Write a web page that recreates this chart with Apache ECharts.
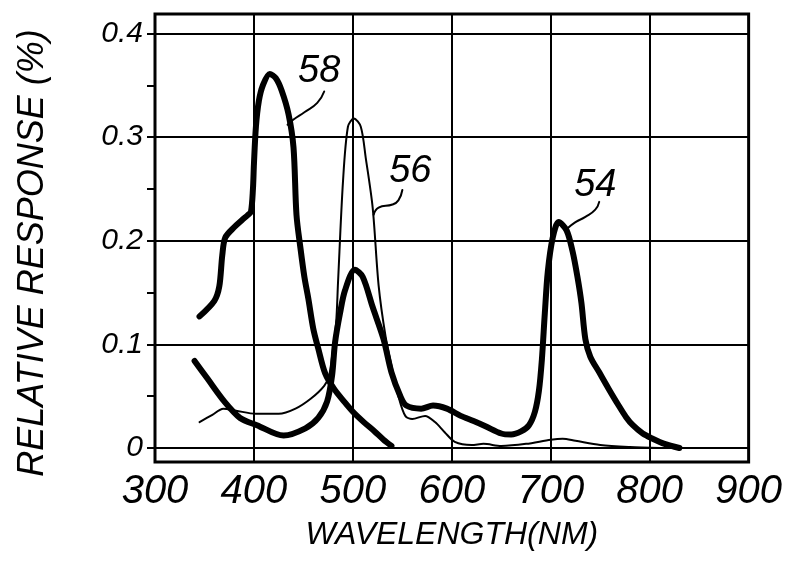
<!DOCTYPE html>
<html><head><meta charset="utf-8">
<script src="https://cdn.jsdelivr.net/npm/echarts@6/dist/echarts.min.js"></script>
<style>html,body{margin:0;padding:0;background:#fff}#c{width:785px;height:562px}</style>
</head><body><div id="c"></div>
<script>
// ---- data ----
const xTicks = [300, 400, 500, 600, 700, 800, 900];
const yTicks = [0, 0.1, 0.2, 0.3, 0.4];
const yMinorTicks = [0.05, 0.15, 0.25, 0.35];

// curve 58 (thick, blue band)
const wl58 = [345, 360, 365, 368, 371, 380, 388, 394, 397, 399, 400, 402, 405, 409, 416, 422, 428, 435, 440, 443, 447, 451, 455, 460, 465, 472, 481, 491, 500, 511, 522, 531, 539];
const val58 = [0.127, 0.142, 0.156, 0.186, 0.203, 0.213, 0.220, 0.225, 0.228, 0.250, 0.274, 0.310, 0.335, 0.350, 0.361, 0.357, 0.345, 0.322, 0.290, 0.225, 0.193, 0.165, 0.144, 0.115, 0.096, 0.072, 0.057, 0.045, 0.035, 0.025, 0.016, 0.008, 0.002];

// curve 56 (thin, green band)
const wl56 = [345, 358, 369, 382, 402, 425, 442, 458, 471, 476, 479, 483, 485, 490, 495, 501, 508, 513, 520, 526, 533, 540, 546, 553, 560, 573, 583, 593, 603, 620, 632, 650, 675, 700, 712, 725, 750, 780, 810];
const val56 = [0.025, 0.032, 0.038, 0.036, 0.033, 0.033, 0.038, 0.048, 0.060, 0.070, 0.089, 0.120, 0.160, 0.257, 0.310, 0.318, 0.310, 0.280, 0.232, 0.157, 0.108, 0.075, 0.050, 0.031, 0.028, 0.031, 0.025, 0.015, 0.006, 0.003, 0.004, 0.002, 0.004, 0.008, 0.009, 0.007, 0.003, 0.001, 0.0];

// curve 54 (thick, red band)
const wl54 = [340, 353, 370, 386, 403, 430, 452, 465, 474, 479, 482, 487, 492, 502, 510, 520, 531, 539, 548, 554, 569, 581, 595, 609, 622, 634, 650, 660, 670, 678, 684, 688, 691, 694, 697, 702, 708, 716, 722, 727, 731, 735, 740, 749, 758, 768, 776, 783, 793, 803, 815, 830];
const val54 = [0.084, 0.067, 0.045, 0.029, 0.022, 0.012, 0.019, 0.029, 0.045, 0.070, 0.102, 0.130, 0.152, 0.172, 0.165, 0.136, 0.105, 0.073, 0.050, 0.041, 0.038, 0.041, 0.038, 0.031, 0.026, 0.021, 0.014, 0.013, 0.016, 0.022, 0.035, 0.055, 0.085, 0.130, 0.170, 0.203, 0.218, 0.210, 0.190, 0.165, 0.140, 0.105, 0.088, 0.073, 0.058, 0.042, 0.030, 0.022, 0.014, 0.009, 0.004, 0.0];

// reference numerals and their leader lines
const calloutNames = ['58', '56', '54'];
const calloutWl = [466, 558, 745];
const calloutVal = [0.363, 0.267, 0.253];
const leader58Wl = [471, 464, 451, 440, 434];
const leader58Val = [0.344, 0.333, 0.324, 0.317, 0.312];
const leader56Wl = [550, 546, 540, 526, 521];
const leader56Val = [0.249, 0.239, 0.235, 0.232, 0.225];
const leader54Wl = [749, 745, 735, 725, 717];
const leader54Val = [0.2375, 0.230, 0.223, 0.218, 0.212];

// ---- chart ----
const zip = (a, b) => a.map((x, i) => [x, b[i]]);
const FONT = 'Liberation Sans';
const curve = (name, wl, val, w) => ({
  name, type: 'line', data: zip(wl, val), smooth: 0.3, symbol: 'none',
  lineStyle: { color: '#000', width: w, cap: 'round', join: 'round' }, z: 5
});
const leader = (wl, val) => ({
  type: 'line', data: zip(wl, val), smooth: 0.5, symbol: 'none',
  lineStyle: { color: '#000', width: 2, cap: 'round' }, z: 4
});

const chart = echarts.init(document.getElementById('c'), null, { renderer: 'canvas' });
chart.setOption({
  animation: false,
  backgroundColor: '#fff',
  grid: { left: 155, right: 26, top: 14, bottom: 100, show: true, borderColor: '#000', borderWidth: 3, backgroundColor: 'transparent' },
  xAxis: {
    type: 'value', min: 300, max: 900, interval: 100,
    name: 'WAVELENGTH(NM)', nameLocation: 'middle', nameGap: 57,
    nameTextStyle: { fontFamily: FONT, fontStyle: 'italic', fontSize: 32, color: '#000' },
    axisLine: { show: false }, axisTick: { show: false },
    axisLabel: { fontFamily: FONT, fontStyle: 'italic', fontSize: 40, color: '#000', margin: 10,
      customValues: xTicks, formatter: v => String(v) },
    splitLine: { show: true, lineStyle: { color: '#000', width: 2 } }
  },
  yAxis: [{
    type: 'value', min: -0.0135, max: 0.4188, position: 'left',
    name: 'RELATIVE RESPONSE (%)', nameLocation: 'middle', nameGap: 104,
    nameTextStyle: { fontFamily: FONT, fontStyle: 'italic', fontSize: 36, color: '#000', padding: [0, 30, 0, 0] },
    axisLine: { show: false },
    axisTick: { show: true, inside: false, length: 8, customValues: yTicks, lineStyle: { color: '#000', width: 2 } },
    axisLabel: { fontFamily: FONT, fontStyle: 'italic', fontSize: 30, color: '#000', margin: 12,
      customValues: yTicks, formatter: v => String(v) },
    splitLine: { show: true, lineStyle: { color: '#000', width: 2 } }
  }, {
    type: 'value', min: -0.0135, max: 0.4188, position: 'left', offset: 0,
    axisLine: { show: false },
    axisTick: { show: true, inside: false, length: 8, customValues: yMinorTicks, lineStyle: { color: '#000', width: 2 } },
    axisLabel: { show: false },
    splitLine: { show: false }
  }],
  series: [
    curve('58', wl58, val58, 6),
    curve('56', wl56, val56, 2),
    curve('54', wl54, val54, 6),
    leader(leader58Wl, leader58Val),
    leader(leader56Wl, leader56Val),
    leader(leader54Wl, leader54Val),
    {
      type: 'scatter', symbol: 'circle', symbolSize: 1, z: 6,
      itemStyle: { color: 'rgba(255,255,255,0)', opacity: 1 },
      data: calloutNames.map((n, i) => ({ name: n, value: [calloutWl[i], calloutVal[i]] })),
      label: { show: true, position: 'inside', formatter: p => p.name, opacity: 1,
        fontFamily: FONT, fontStyle: 'italic', fontSize: 38, color: '#000', textBorderWidth: 0 },
      labelLayout: { hideOverlap: false }
    }
  ]
});
</script>
</body></html>
